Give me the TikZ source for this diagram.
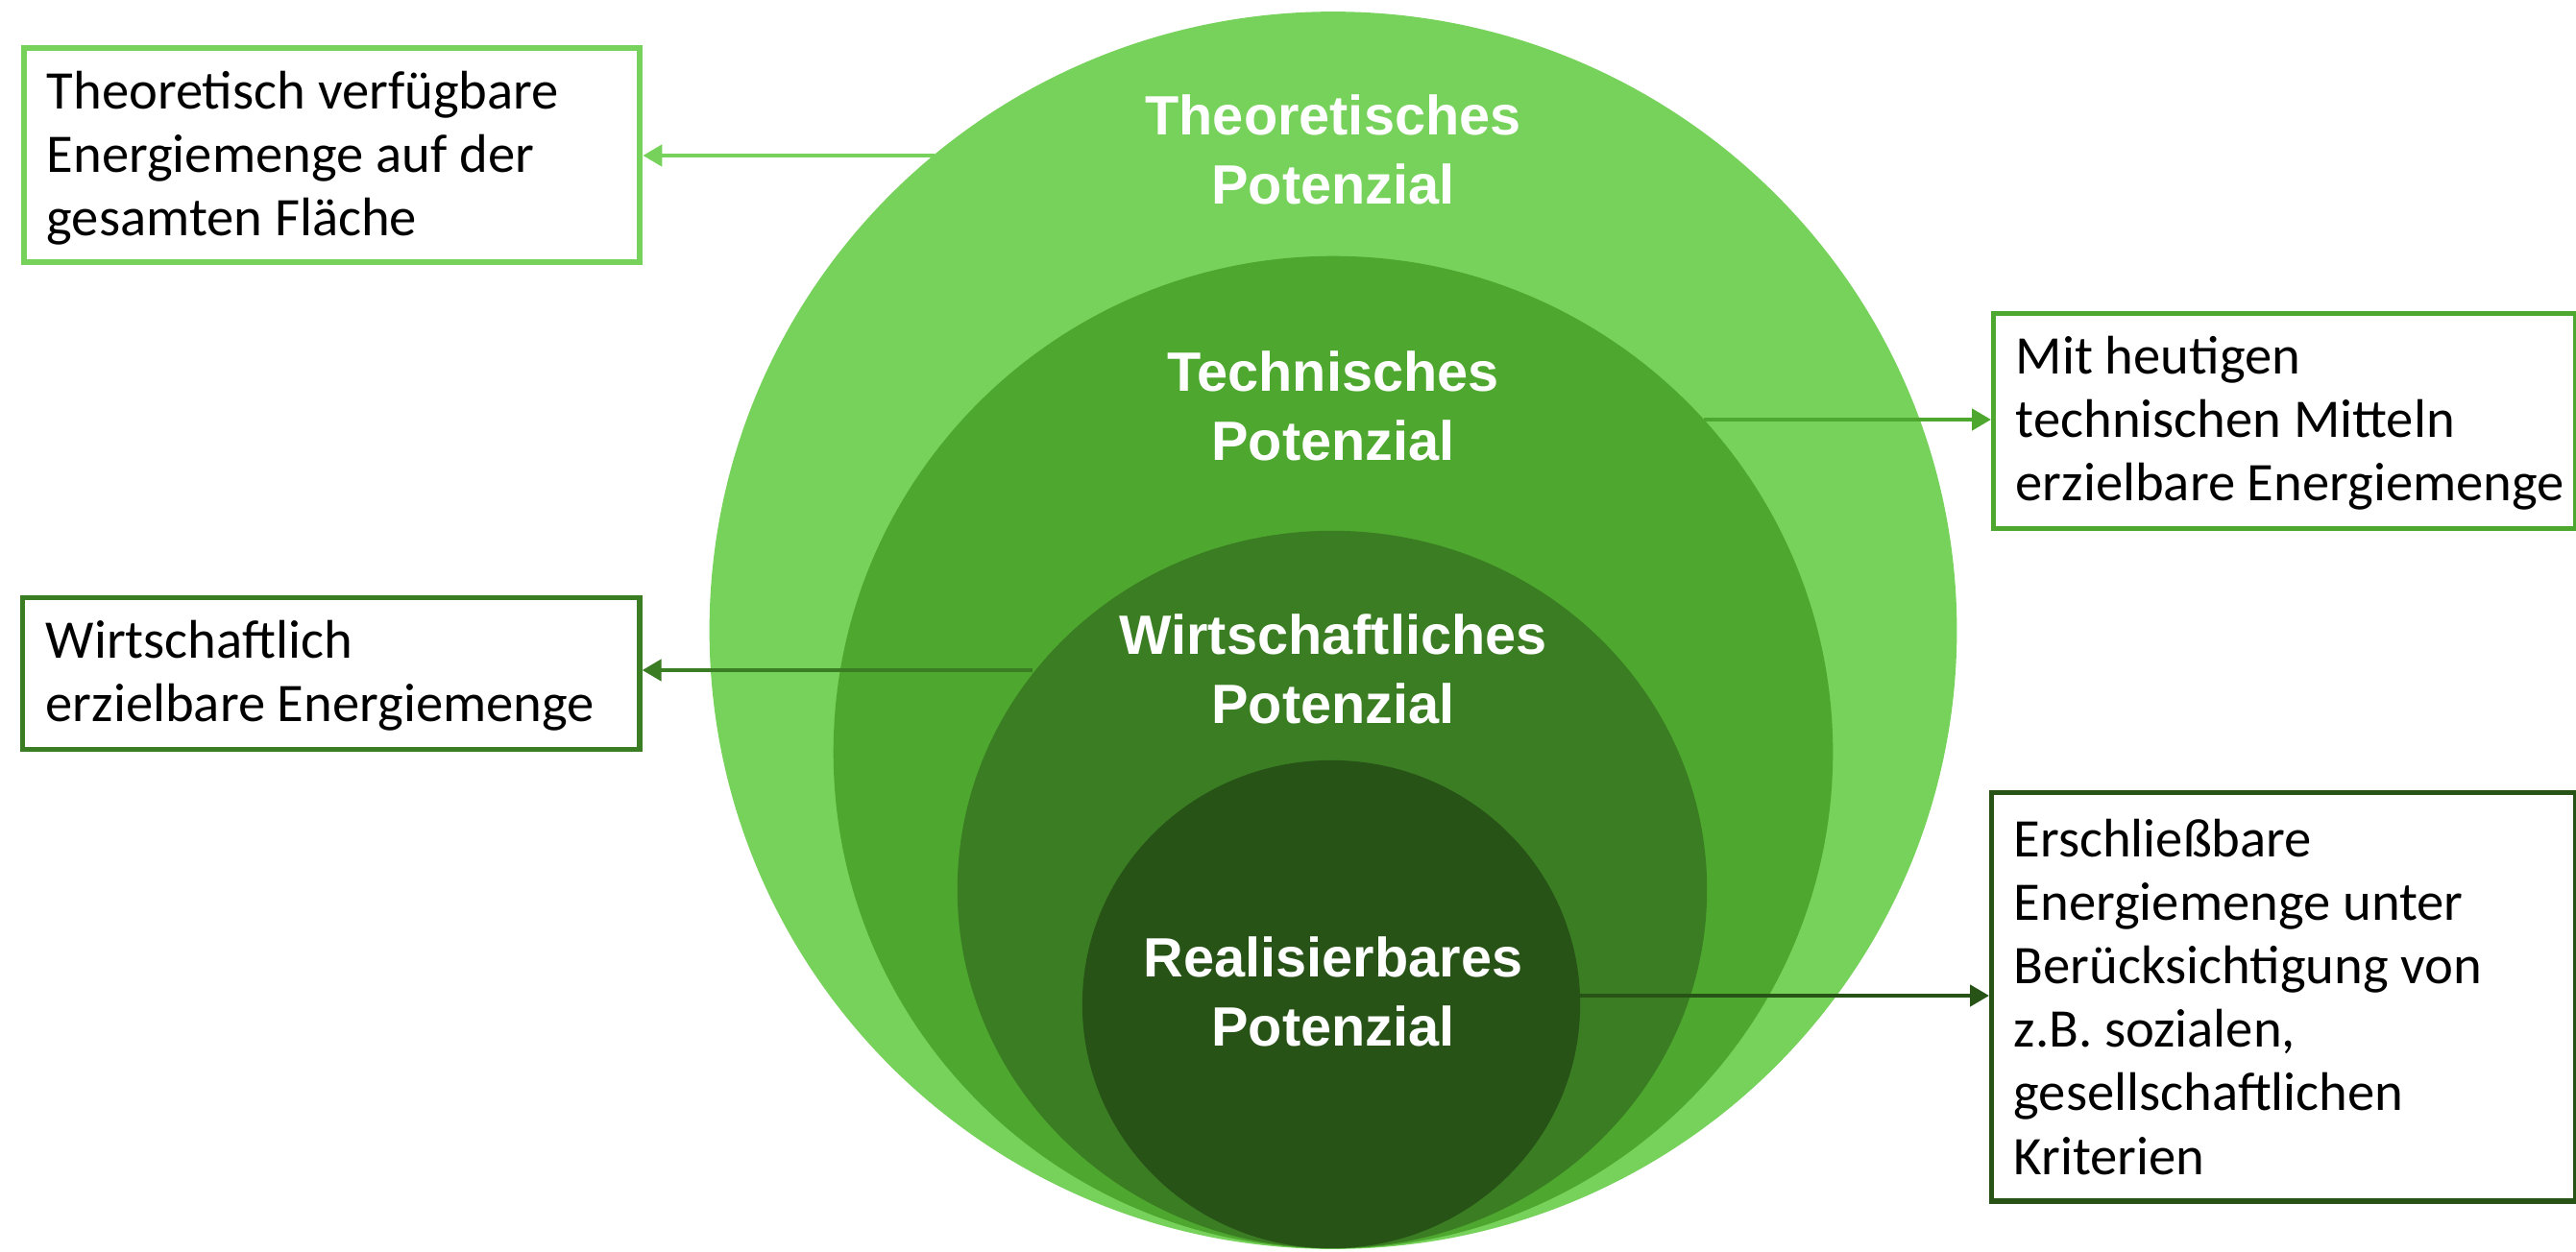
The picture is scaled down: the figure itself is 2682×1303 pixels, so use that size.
\documentclass[tikz,border=0pt]{standalone}
\usepackage{fontspec}
\setmainfont{Carlito}
\newfontfamily\lblfont{Liberation Sans}
\usetikzlibrary{shapes.geometric,arrows.meta}
\definecolor{gA}{RGB}{118,210,90}
\definecolor{gB}{RGB}{78,167,46}
\definecolor{gC}{RGB}{59,125,35}
\definecolor{gD}{RGB}{39,83,23}
\begin{document}
\begin{tikzpicture}[x=0.01cm,y=-0.01cm,
  layer/.style={ellipse, inner sep=0pt, draw=none},
  lbl/.style={text=white, font=\lblfont\bfseries\fontsize{16.4}{20.5}\selectfont, align=center, inner sep=0pt},
  boxframe/.style={draw, line width=1.5pt, fill=white, inner sep=0pt, anchor=north west},
  boxtext/.style={text=black, font=\fontsize{16.1}{18.8}\selectfont, align=left, inner sep=0pt, anchor=west},
  arr/.style={line width=1.3pt, -{Triangle[length=0.2cm,width=0.22cm]}}]
\useasboundingbox (0,0) rectangle (2682,1303);
% nested potentials
\node[layer, fill=gA, minimum width=12.98cm, minimum height=12.88cm] (L1) at (1388,656.5) {};
\node[layer, fill=gB, minimum width=10.40cm, minimum height=10.33cm] (L2) at (1388,783.5) {};
\node[layer, fill=gC, minimum width=7.80cm, minimum height=7.47cm] (L3) at (1387,926.5) {};
\node[layer, fill=gD, minimum width=5.18cm, minimum height=5.08cm] (L4) at (1386,1046) {};
% labels
\node[lbl] (t1) at (1388,156) {Theoretisches\\Potenzial};
\node[lbl] (t2) at (1388,423) {Technisches\\Potenzial};
\node[lbl] (t3) at (1388,696.5) {Wirtschaftliches\\Potenzial};
\node[lbl] (t4) at (1388,1033) {Realisierbares\\Potenzial};
% boxes
\node[boxframe, draw=gA, line width=1.7pt, minimum width=6.41cm, minimum height=2.23cm] (b1) at (22,47) {};
\node[boxtext] (b1t) at ([xshift=0.26cm,yshift=-0.03cm]b1.west)
  {Theoretisch verfügbare\\Energiemenge auf der\\gesamten Fläche};
\node[boxframe, draw=gB, minimum width=6.06cm, minimum height=2.24cm] (b2) at (2073,324) {};
\node[boxtext] (b2t) at ([xshift=0.25cm,yshift=-0.02cm]b2.west)
  {Mit heutigen\\technischen Mitteln\\erzielbare Energiemenge};
\node[boxframe, draw=gC, minimum width=6.42cm, minimum height=1.58cm] (b3) at (21,620) {};
\node[boxtext] (b3t) at ([xshift=0.26cm,yshift=-0.02cm]b3.west)
  {Wirtschaftlich\\erzielbare Energiemenge};
\node[boxframe, draw=gD, minimum width=6.08cm, minimum height=4.25cm] (b4) at (2071,823) {};
\node[boxtext] (b4t) at ([xshift=0.25cm]b4.west)
  {Erschließbare\\Energiemenge unter\\Berücksichtigung von\\z.B. sozialen,\\gesellschaftlichen\\Kriterien};
% connector start points on the ellipse borders
\coordinate (a1) at (973,162);
\coordinate (a2) at (1774,437);
\coordinate (a3) at (1075,698);
\coordinate (a4) at (1645,1037);
\draw[arr, gA] (a1) -- (a1 -| b1.east);
\draw[arr, gB] (a2) -- (a2 -| b2.west);
\draw[arr, gC] (a3) -- (a3 -| b3.east);
\draw[arr, gD] (a4) -- (a4 -| b4.west);
\end{tikzpicture}
\end{document}
